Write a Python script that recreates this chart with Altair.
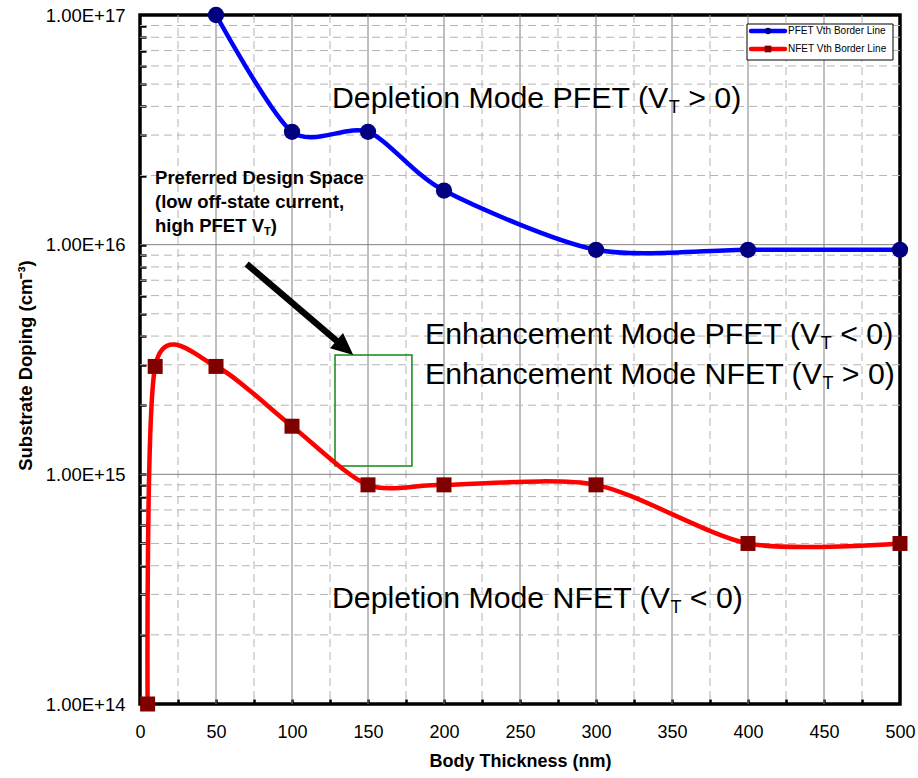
import altair as alt
import pandas as pd

# ---- data: Vth border lines (body thickness in nm, substrate doping in cm^-3) ----
pfet_thickness = [50, 100, 150, 200, 300, 400, 500]
pfet_doping = [1.0e17, 3.1e16, 3.1e16, 1.72e16, 9.5e15, 9.5e15, 9.5e15]

nfet_thickness = [5, 10, 50, 100, 150, 200, 300, 400, 500]
nfet_doping = [1.0e14, 2.95e15, 2.95e15, 1.62e15, 9.0e14, 9.0e14, 9.0e14, 5.0e14, 5.0e14]

series_names = ["PFET Vth Border Line", "NFET Vth Border Line"]

# axis ticks
x_labels = list(range(0, 501, 50))
x_major_grid = list(range(50, 500, 50))
x_minor_grid = list(range(25, 500, 50))
x_inner_ticks = list(range(25, 500, 25))
y_decades = [1e14, 1e15, 1e16, 1e17]
y_major_grid = [1e15, 1e16]
y_minor_grid = [float(k) * 10.0 ** d for d in (14, 15, 16) for k in range(2, 10)]
y_inner_ticks = sorted(y_minor_grid + y_major_grid)

# preferred design window
window_x = [128.3, 178.9]
window_y = [1.087e15, 3.31e15]

# arrow pointing at the design window
arrow_x = [70.2, 132.3]
arrow_y = [8.24e15, 3.67e15]
arrow_tip = (140.3, 3.31e15)

W, H = 760, 689
FONT = "Liberation Sans, Arial, sans-serif"

xs = alt.Scale(domain=[0, 500], nice=False, zero=False)
ys = alt.Scale(type="log", domain=[1e14, 1e17], nice=False)


def X(field, axis=None):
    return alt.X(field, type="quantitative", scale=xs, axis=axis)


def Y(field, axis=None):
    return alt.Y(field, type="quantitative", scale=ys, axis=axis)


# Arial advance widths (1/1000 em) for the annotation strings
ARIAL = {" ": 278, "(": 333, ")": 333, "<": 584, ">": 584, "0": 556, "D": 722,
         "e": 556, "p": 556, "l": 222, "t": 278, "i": 222, "o": 556, "n": 556,
         "M": 833, "d": 556, "P": 667, "F": 611, "E": 667, "T": 611, "V": 667,
         "N": 722, "h": 556, "a": 556, "c": 500, "m": 833}
ARIAL_BOLD = {" ": 278, "h": 611, "i": 278, "g": 611, "P": 667, "F": 611,
              "E": 667, "T": 611, "V": 667, ")": 333}


def text_width(s, size, bold=False):
    table = ARIAL_BOLD if bold else ARIAL
    return sum(table[c] for c in s) * size / 1000.0


def label(text, x, y, size, dx=0.0, dy=0.0, bold=False):
    df = pd.DataFrame({"x": [x], "y": [y], "t": [text]})
    return alt.Chart(df).mark_text(
        align="left", baseline="alphabetic", dx=dx, dy=dy, fontSize=size,
        fontWeight="bold" if bold else "normal", font=FONT, color="black",
    ).encode(x=X("x"), y=Y("y"), text="t:N")


def vt_label(head, tail, x, y, size, sub_size, sub_dy, bold=False):
    """Text of the form  head + subscript T + tail."""
    w_head = text_width(head, size, bold)
    w_sub = (ARIAL_BOLD if bold else ARIAL)["T"] * sub_size / 1000.0
    lead = 0.0
    if tail.startswith(" "):
        lead = text_width(" ", size, bold)
        tail = tail.lstrip(" ")
    return [
        label(head, x, y, size, bold=bold),
        label("T", x, y, sub_size, dx=w_head, dy=sub_dy, bold=bold),
        label(tail, x, y, size, dx=w_head + w_sub + lead, bold=bold),
    ]


# ---- grid lines and inward ticks ----
grid_minor_x = alt.Chart(pd.DataFrame({"x": x_minor_grid})).mark_rule(
    color="#b4b4b4", strokeWidth=1, strokeDash=[8, 5]
).encode(x=X("x", alt.Axis(orient="top", offset=-H, values=x_inner_ticks, ticks=True,
                            tickSize=5, tickWidth=2.5, tickColor="black", labels=False,
                            domain=False, grid=False, title="")))

grid_major_x = alt.Chart(pd.DataFrame({"x": x_major_grid})).mark_rule(
    color="#808080", strokeWidth=1
).encode(x=X("x", alt.Axis(orient="bottom", values=x_labels, ticks=False, tickSize=0,
                            domain=False, grid=False, labelFlush=False,
                            labelFontSize=18, labelPadding=33, labelBaseline="alphabetic",
                            title="Body Thickness (nm)", titleFontSize=18,
                            titleFontWeight="bold", titleY=62, titleBaseline="alphabetic")))

grid_minor_y = alt.Chart(pd.DataFrame({"y": y_minor_grid})).mark_rule(
    color="#b4b4b4", strokeWidth=1, strokeDash=[8, 5]
).encode(y=Y("y", alt.Axis(orient="right", offset=-W, values=y_inner_ticks, ticks=True,
                            tickSize=6, tickWidth=2.5, tickColor="black", labels=False,
                            domain=False, grid=False, title="")))

grid_major_y = alt.Chart(pd.DataFrame({"y": y_major_grid})).mark_rule(
    color="#808080", strokeWidth=1
).encode(y=Y("y", alt.Axis(orient="left", values=y_decades, ticks=False, tickSize=0,
                            domain=False, grid=False, labelFlush=False,
                            labelExpr="'1.00E+' + round(log(datum.value) / LN10)",
                            labelFontSize=18.5, labelPadding=15,
                            title="Substrate Doping (cm\u207b\u00b3)", titleFontSize=18.5,
                            titleFontWeight="bold", titleAngle=270, titleX=-109, titleY=350,
                            titleBaseline="alphabetic", titleAlign="center")))

# ---- design window and arrow ----
window = alt.Chart(pd.DataFrame({"x": [window_x[0]], "x2": [window_x[1]],
                                 "y": [window_y[0]], "y2": [window_y[1]]})).mark_rect(
    fill=None, fillOpacity=0, stroke="#118a11", strokeWidth=1.5
).encode(x=X("x"), x2="x2:Q", y=Y("y"), y2="y2:Q")

arrow_shaft = alt.Chart(pd.DataFrame({"x": [arrow_x[0]], "x2": [arrow_x[1]],
                                      "y": [arrow_y[0]], "y2": [arrow_y[1]]})).mark_rule(
    color="black", strokeWidth=6.5
).encode(x=X("x"), x2="x2:Q", y=Y("y"), y2="y2:Q")

arrow_head = alt.Chart(pd.DataFrame({"x": [arrow_tip[0]], "y": [arrow_tip[1]]})).mark_point(
    shape="M0,0 L-1,-2.2 L1,-2.2 Z", filled=True, color="black", opacity=1,
    size=400, angle=310.5, strokeWidth=0
).encode(x=X("x"), y=Y("y"))

# ---- Vth border lines (smoothed) ----
pfet = pd.DataFrame({"thickness": pfet_thickness, "doping": pfet_doping})
nfet = pd.DataFrame({"thickness": nfet_thickness, "doping": nfet_doping})

pfet_line = alt.Chart(pfet).mark_line(
    color="#0000ff", strokeWidth=4.5, interpolate="cardinal", tension=0.2, clip=False
).encode(x=X("thickness"), y=Y("doping"))
pfet_pts = alt.Chart(pfet).mark_point(
    shape="circle", filled=True, color="#000080", opacity=1, size=265, clip=False
).encode(x=X("thickness"), y=Y("doping"))

nfet_line = alt.Chart(nfet).mark_line(
    color="#ff0000", strokeWidth=4.5, interpolate="cardinal", tension=0.2, clip=False
).encode(x=X("thickness"), y=Y("doping"))
nfet_pts = alt.Chart(nfet).mark_point(
    shape="square", filled=True, color="#800000", opacity=1, size=225, clip=False
).encode(x=X("thickness"), y=Y("doping"))

# ---- region annotations ----
texts = []
texts += vt_label("Depletion Mode PFET (V", " > 0)", 126.3, 3.94e16, 30.3, 18, 5)
texts += vt_label("Enhancement Mode PFET (V", " < 0)", 187.5, 3.69e15, 30.3, 18, 5)
texts += vt_label("Enhancement Mode NFET (V", " > 0)", 187.5, 2.47e15, 30.3, 18, 5)
texts += vt_label("Depletion Mode NFET (V", " < 0)", 126.3, 2.62e14, 30.3, 18, 5)
texts.append(label("Preferred Design Space", 9.9, 1.837e16, 18.5, bold=True))
texts.append(label("(low off-state current,", 9.9, 1.444e16, 18.5, bold=True))
texts += vt_label("high PFET V", ")", 9.9, 1.135e16, 18.5, 11, 3, bold=True)

# ---- legend box ----
legend_box = alt.Chart(pd.DataFrame({"s": [0]})).mark_rect(
    fill="white", stroke="black", strokeWidth=1
).encode(x=alt.value(607), x2=alt.value(753), y=alt.value(9), y2=alt.value(45))

legend_layers = [legend_box]
legend_styles = [("#0000ff", "#000080", "circle", 40, 16),
                 ("#ff0000", "#800000", "square", 45, 34)]
for name, (lc, mc, shp, msz, ly) in zip(series_names, legend_styles):
    df = pd.DataFrame({"s": [name]})
    legend_layers.append(alt.Chart(df).mark_rule(color=lc, strokeWidth=4.5, strokeCap="round")
                         .encode(x=alt.value(611), x2=alt.value(645), y=alt.value(ly)))
    legend_layers.append(alt.Chart(df).mark_point(shape=shp, filled=True, color=mc, opacity=1, size=msz)
                         .encode(x=alt.value(628), y=alt.value(ly)))
    legend_layers.append(alt.Chart(df).mark_text(align="left", baseline="middle", fontSize=10,
                                                 font=FONT, color="black")
                         .encode(x=alt.value(648), y=alt.value(ly), text="s:N"))

chart = alt.layer(
    grid_minor_x, grid_major_x, grid_minor_y, grid_major_y,
    window, nfet_line, pfet_line, nfet_pts, pfet_pts,
    arrow_shaft, arrow_head, *texts, *legend_layers,
).resolve_axis(x="independent", y="independent").properties(
    width=W, height=H,
    autosize=alt.AutoSizeParams(type="none"),
    padding={"left": 140, "top": 15, "right": 18, "bottom": 74},
    background="white",
).configure_view(
    stroke="black", strokeWidth=3.5
).configure_axis(
    labelFont=FONT, titleFont=FONT, labelColor="black", titleColor="black"
)

chart.save("out.html", embed_options={"renderer": "svg", "actions": False})
